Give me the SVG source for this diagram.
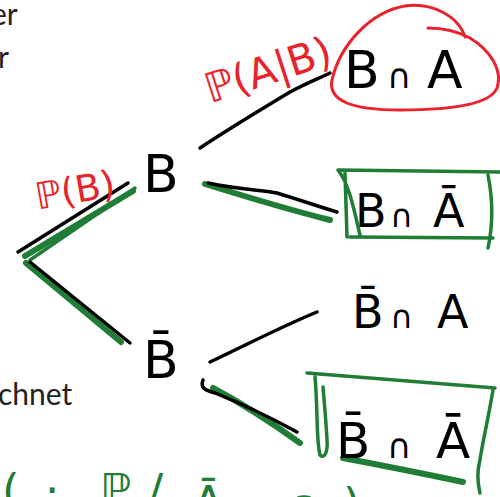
<svg xmlns="http://www.w3.org/2000/svg" width="500" height="497" viewBox="0 0 500 497">
<style>
.slide{font-family:Lato,"Open Sans",sans-serif;font-size:30px;fill:#222}
.hw{font-family:"DejaVu Sans",sans-serif;fill:#000}
.red{font-family:"DejaVu Sans",sans-serif;fill:#e8232b}
.grn{font-family:"DejaVu Sans",sans-serif;fill:#1f7d35}
.k{fill:none;stroke:#000;stroke-width:3.5;stroke-linecap:round;stroke-linejoin:round}
.g{fill:none;stroke:#1f7d35;stroke-width:3.5;stroke-linecap:round;stroke-linejoin:round}
.gt{fill:none;stroke:#1f7d35;stroke-width:6;stroke-linecap:round}
.r{fill:none;stroke:#e8232b;stroke-width:3;stroke-linecap:round;stroke-linejoin:round}
</style>
<rect width="500" height="497" fill="#fff"/>
<g id="slide-text">
<text class="slide" x="-9" y="25">er</text>
<text class="slide" x="-2" y="68">r</text>
<text class="slide" x="-2" y="405">chnet</text>
</g>
<g id="connectors">
<path class="gt" d="M25,256 L133,191"/>
<path class="g" d="M30,260 L135,188"/>
<path class="k" d="M18,252 L128,183"/>
<path class="gt" d="M26,263 L121,342"/>
<path class="k" d="M30,262 L130,343"/>
<path class="k" d="M200,148 C230,128 260,110 290,92 C305,84 315,80 330,73"/>
<path class="gt" d="M205,184 C250,198 290,210 330,220"/>
<path class="k" d="M208,183 C240,190 265,190 277,193 C300,200 320,207 337,212"/>
<path class="k" d="M210,362 C250,343 285,325 317,312"/>
<path class="gt" d="M213,388 C245,405 275,425 300,443"/>
<path class="k" d="M203,380 C200,388 205,390 215,393 C245,405 275,420 297,432"/>
</g>
<g id="label-PB">
<text class="red" x="0" y="13" font-size="37" text-anchor="middle" transform="translate(75,190) rotate(-10)">ℙ(B)</text>
</g>
<g id="label-PAB">
<text class="red" x="0" y="14" font-size="41" text-anchor="middle" transform="translate(268,70) rotate(-18)">ℙ(A|B)</text>
</g>
<g id="node-B">
<text class="hw" x="143" y="192" font-size="52">B</text>
</g>
<g id="node-notB">
<text class="hw" x="143" y="378" font-size="52">B̄</text>
</g>
<g id="node-BA">
<path class="r" d="M465,37 C458,15 430,2 405,6 C370,12 340,45 332,80 C328,100 350,110 400,110 C450,110 490,105 497,88 C503,70 490,50 470,38 C455,30 440,28 428,28"/>
<text class="hw" font-size="52" y="88"><tspan x="344">B</tspan><tspan x="387" font-size="34">∩</tspan><tspan x="427">A</tspan></text>
</g>
<g id="node-BnotA">
<path class="g" d="M338,170 L500,172 M345,173 L347,237 M338,170 C350,185 355,215 360,235 M350,237 L493,238 M488,175 C492,195 494,220 488,248"/>
<text class="hw" font-size="46" y="227"><tspan x="355">B</tspan><tspan x="390" font-size="32">∩</tspan><tspan x="433">Ā</tspan></text>
</g>
<g id="node-notBA">
<text class="hw" font-size="46" y="328"><tspan x="352">B̄</tspan><tspan x="390" font-size="32">∩</tspan><tspan x="437">A</tspan></text>
</g>
<g id="node-notBnotA">
<path class="g" d="M307,373 L495,388 M315,377 C318,410 316,440 320,455 C325,460 328,450 327,440 C326,420 324,400 323,387 M493,390 C488,420 482,445 480,460 C476,475 478,485 480,493"/>
<path class="gt" d="M343,458 C380,465 430,475 463,482"/>
<text class="hw" font-size="50" y="458"><tspan x="336">B̄</tspan><tspan x="387" font-size="34">∩</tspan><tspan x="436">Ā</tspan></text>
</g>
<g id="bottom-partial">
<text class="grn" x="2" y="506" font-size="45">(</text>
<text class="grn" x="45" y="506" font-size="45">·</text>
<text class="grn" x="100" y="506" font-size="45">ℙ</text>
<text class="grn" x="148" y="506" font-size="45">/</text>
<text class="grn" x="193" y="518" font-size="45">Ā</text>
<text class="grn" x="282" y="530" font-size="60">∩</text>
<text class="grn" x="343" y="520" font-size="45">)</text>
</g>
</svg>
